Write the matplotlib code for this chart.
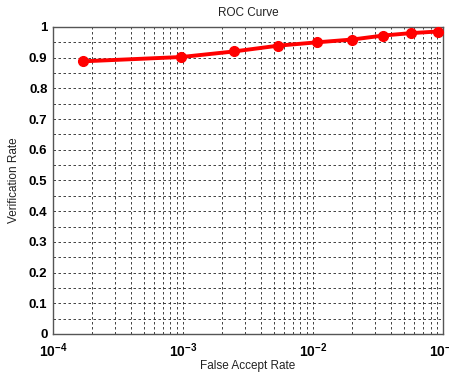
import matplotlib
matplotlib.use("Agg")
import matplotlib.pyplot as plt
from matplotlib.ticker import LogLocator, FixedLocator, NullFormatter

far = [1.71e-4, 9.7e-4, 2.45e-3, 5.4e-3, 1.08e-2, 2.0e-2, 3.47e-2, 5.7e-2, 9.1e-2]
vr = [0.888, 0.902, 0.920, 0.939, 0.950, 0.959, 0.972, 0.980, 0.985]
xticks = [1e-4, 1e-3, 1e-2, 1e-1]
xticklabels = [r"$\mathbf{10^{-4}}$", r"$\mathbf{10^{-3}}$", r"$\mathbf{10^{-2}}$", r"$\mathbf{10^{-1}}$"]
yticks = [0, 0.1, 0.2, 0.3, 0.4, 0.5, 0.6, 0.7, 0.8, 0.9, 1]
yticklabels = ["0", "0.1", "0.2", "0.3", "0.4", "0.5", "0.6", "0.7", "0.8", "0.9", "1"]

plt.rcParams['font.family'] = ['Liberation Sans', 'DejaVu Sans']
plt.rcParams['mathtext.fontset'] = 'custom'
plt.rcParams['mathtext.rm'] = 'Liberation Sans'
plt.rcParams['mathtext.bf'] = 'Liberation Sans:bold'

fig = plt.figure(figsize=(4.49, 3.74), dpi=100)
ax = fig.add_axes([0.118, 0.107, 0.869, 0.821])
ax.set_xscale('log')
ax.set_xlim(1e-4, 1e-1)
ax.set_ylim(0, 1)

ax.plot(far, vr, color='#ff0000', lw=2.8, marker='o', ms=7, zorder=5, clip_on=False)

ax.set_xticks(xticks)
ax.set_xticklabels(xticklabels, fontsize=10)
ax.xaxis.set_minor_locator(LogLocator(base=10, subs=range(2, 10)))
ax.xaxis.set_minor_formatter(NullFormatter())
ax.set_yticks(yticks)
ax.set_yticklabels(yticklabels, fontsize=9.5, fontweight='bold')
ax.yaxis.set_minor_locator(FixedLocator([0.05 + 0.1 * i for i in range(10)]))

ax.grid(True, which='both', linestyle=(0, (3, 3)), color='#222222', linewidth=0.6)
ax.tick_params(which='both', direction='in', top=False, right=False, length=0)
ax.tick_params(axis='x', pad=5)
ax.tick_params(axis='y', pad=4)
for s in ax.spines.values():
    s.set_color('#555555')
    s.set_linewidth(1.0)

ax.set_title("ROC Curve", fontsize=8.5, color='#222222', pad=8)
ax.set_xlabel("False Accept Rate", fontsize=8.5, color='#222222', labelpad=0)
ax.set_ylabel("Verification Rate", fontsize=8.5, color='#222222', labelpad=6)

fig.savefig("out.png", dpi=100)
